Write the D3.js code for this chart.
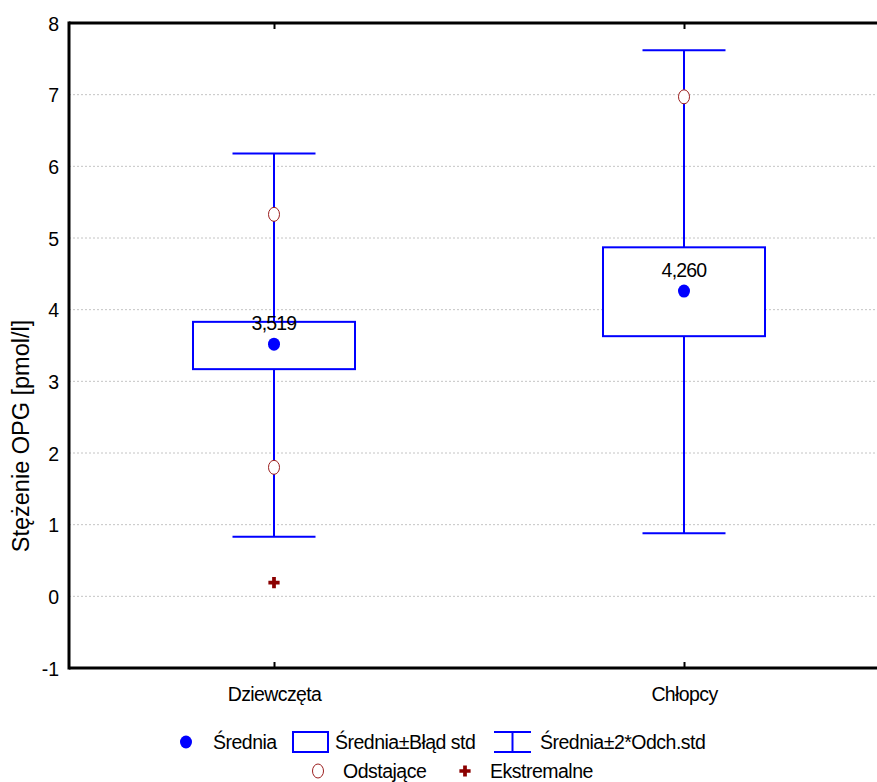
<!DOCTYPE html>
<html>
<head>
<meta charset="utf-8">
<script src="https://cdn.jsdelivr.net/npm/d3@7"></script>
<style>
body { margin: 0; background: #fff; }
text { font-family: "Liberation Sans", Arial, sans-serif; fill: #000; }
</style>
</head>
<body>
<svg width="877" height="782"></svg>
<script>
var categories = ['Dziewczęta', 'Chłopcy'];
var means = [3.519, 4.260];
var meanLabels = ['3,519', '4,260'];
var seLow = [3.17, 3.63];
var seHigh = [3.83, 4.87];
var sdLow = [0.83, 0.88];
var sdHigh = [6.18, 7.62];
var outliers = [[5.33, 1.80], [6.97]];
var extremes = [[0.19], []];
var yTicks = [-1, 0, 1, 2, 3, 4, 5, 6, 7, 8];

var svg = d3.select('svg');
var margin = { top: 23, left: 69 };
var width = 820;
var height = 645;
var g = svg.append('g').attr('transform', `translate(${margin.left}, ${margin.top})`);

var x = d3.scalePoint().domain(categories).range([0, width]).padding(0.5);
var y = d3.scaleLinear().domain([-1, 8]).range([height, 0]);

var blue = '#0000ff';
var red = '#8b0000';
var outRed = '#9c2020';

// grid
g.append('g')
	.selectAll('line')
	.data(yTicks.filter(function (d) { return d > -1 && d < 8; }))
	.join('line')
	.attr('x1', 0).attr('x2', width)
	.attr('y1', function (d) { return y(d); }).attr('y2', function (d) { return y(d); })
	.attr('stroke', '#c4c4c4').attr('stroke-dasharray', '2,2');

// y axis
var yAxis = d3.axisLeft(y).tickValues(yTicks).tickSize(0).tickPadding(10).tickFormat(function (d) { return String(d); });
g.append('g').call(function (a) {
	a.call(yAxis);
	a.select('.domain').remove();
	a.selectAll('.tick text').style('font-size', '19.5px').attr('font-family', null).attr('dy', '0.36em');
});

// x axis labels and inner ticks
var xAxis = d3.axisBottom(x).tickSize(-6).tickPadding(19);
g.append('g').attr('transform', `translate(0,${height})`).call(function (a) {
	a.call(xAxis);
	a.select('.domain').remove();
	a.selectAll('.tick line').attr('stroke', '#000').attr('stroke-width', 2);
	a.selectAll('.tick text').style('font-size', '19.5px').attr('font-family', null).attr('letter-spacing', '-0.6');
});
g.append('g').call(function (a) {
	a.call(d3.axisTop(x).tickSize(-6).tickFormat(''));
	a.select('.domain').remove();
	a.selectAll('.tick line').attr('stroke', '#000').attr('stroke-width', 2);
});

// frame
g.append('line').attr('x1', 0).attr('x2', width).attr('y1', 0).attr('y2', 0).attr('stroke', '#000').attr('stroke-width', 3);
g.append('line').attr('x1', 0).attr('x2', width).attr('y1', height).attr('y2', height).attr('stroke', '#000').attr('stroke-width', 3);
g.append('line').attr('x1', 0).attr('x2', 0).attr('y1', -1.5).attr('y2', height + 1.5).attr('stroke', '#000').attr('stroke-width', 3);

// y label
svg.append('text')
	.attr('transform', 'translate(29,436) rotate(-90)')
	.attr('text-anchor', 'middle')
	.style('font-size', '23.5px')
	.text('Stężenie OPG [pmol/l]');

var boxW = 162;
var capW = 83;

categories.forEach(function (c, i) {
	var cx = x(c);
	var grp = g.append('g');
	// whiskers
	grp.append('line').attr('x1', cx).attr('x2', cx).attr('y1', y(sdHigh[i])).attr('y2', y(seHigh[i]))
		.attr('stroke', blue).attr('stroke-width', 2);
	grp.append('line').attr('x1', cx).attr('x2', cx).attr('y1', y(seLow[i])).attr('y2', y(sdLow[i]))
		.attr('stroke', blue).attr('stroke-width', 2);
	grp.append('line').attr('x1', cx - capW / 2).attr('x2', cx + capW / 2).attr('y1', y(sdHigh[i])).attr('y2', y(sdHigh[i]))
		.attr('stroke', blue).attr('stroke-width', 2);
	grp.append('line').attr('x1', cx - capW / 2).attr('x2', cx + capW / 2).attr('y1', y(sdLow[i])).attr('y2', y(sdLow[i]))
		.attr('stroke', blue).attr('stroke-width', 2);
	// box
	grp.append('rect')
		.attr('x', cx - boxW / 2).attr('width', boxW)
		.attr('y', y(seHigh[i])).attr('height', y(seLow[i]) - y(seHigh[i]))
		.attr('fill', '#fff').attr('stroke', blue).attr('stroke-width', 2);
	// mean
	grp.append('ellipse').attr('cx', cx).attr('cy', y(means[i])).attr('rx', 6).attr('ry', 6.5).attr('fill', blue);
	grp.append('text').attr('x', cx).attr('y', y(means[i]) - 14).attr('text-anchor', 'middle')
		.style('font-size', '19.5px').attr('letter-spacing', '-0.8').text(meanLabels[i]);
	// outliers
	grp.selectAll('.out').data(outliers[i]).join('ellipse')
		.attr('cx', cx).attr('cy', function (d) { return y(d); })
		.attr('rx', 5.5).attr('ry', 7).attr('fill', '#fff').attr('stroke', outRed).attr('stroke-width', 1);
	// extremes
	grp.selectAll('.ext').data(extremes[i]).join('path')
		.attr('transform', function (d) { return `translate(${cx},${y(d)})`; })
		.attr('d', d3.symbol(d3.symbolCross).size(70))
		.attr('fill', red);
});

// legend
var lg = svg.append('g').style('font-size', '19.5px');
var row1 = 742, row2 = 771;
lg.append('ellipse').attr('cx', 186).attr('cy', row1).attr('rx', 6).attr('ry', 6.5).attr('fill', blue);
lg.append('text').attr('x', 213).attr('y', row1 + 7).attr('letter-spacing', '-0.5').text('Średnia');
lg.append('rect').attr('x', 293).attr('y', row1 - 10).attr('width', 35).attr('height', 20)
	.attr('fill', 'none').attr('stroke', blue).attr('stroke-width', 2);
lg.append('text').attr('x', 335).attr('y', row1 + 7).attr('letter-spacing', '-0.5').text('Średnia±Błąd std');
lg.append('line').attr('x1', 494).attr('x2', 531).attr('y1', row1 - 10).attr('y2', row1 - 10).attr('stroke', blue).attr('stroke-width', 2);
lg.append('line').attr('x1', 494).attr('x2', 531).attr('y1', row1 + 10).attr('y2', row1 + 10).attr('stroke', blue).attr('stroke-width', 2);
lg.append('line').attr('x1', 512.5).attr('x2', 512.5).attr('y1', row1 - 10).attr('y2', row1 + 10).attr('stroke', blue).attr('stroke-width', 2);
lg.append('text').attr('x', 540).attr('y', row1 + 7).attr('letter-spacing', '-0.5').text('Średnia±2*Odch.std');
lg.append('ellipse').attr('cx', 318).attr('cy', row2).attr('rx', 5.5).attr('ry', 7)
	.attr('fill', '#fff').attr('stroke', outRed).attr('stroke-width', 1);
lg.append('text').attr('x', 343).attr('y', row2 + 7).attr('letter-spacing', '-0.5').text('Odstające');
lg.append('path').attr('transform', `translate(465,${row2})`).attr('d', d3.symbol(d3.symbolCross).size(70)).attr('fill', red);
lg.append('text').attr('x', 490).attr('y', row2 + 7).attr('letter-spacing', '-0.5').text('Ekstremalne');
</script>
</body>
</html>
